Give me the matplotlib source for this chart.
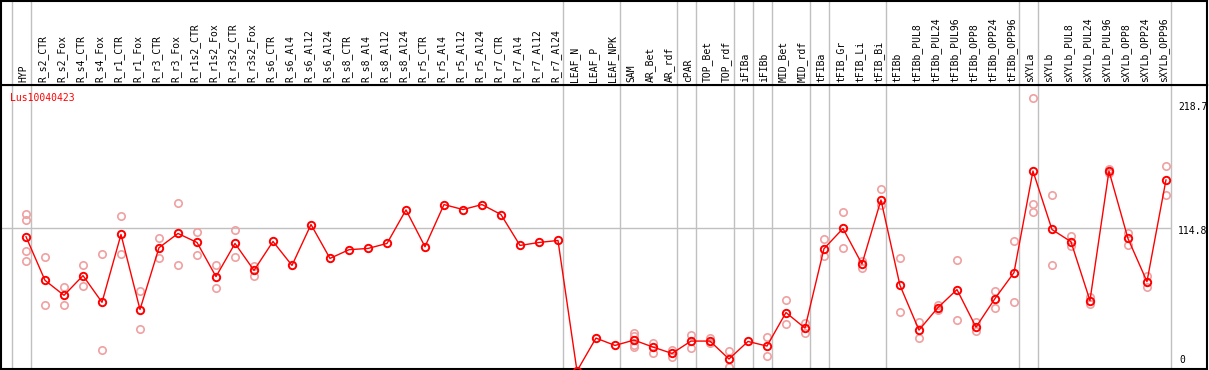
import numpy as np
import matplotlib.pyplot as plt
from matplotlib.transforms import blended_transform_factory

samples = ['HYP', 'R_s2_CTR', 'R_s2_Fox', 'R_s4_CTR', 'R_s4_Fox', 'R_r1_CTR', 'R_r1_Fox',
           'R_r3_CTR', 'R_r3_Fox', 'R_r1s2_CTR', 'R_r1s2_Fox', 'R_r3s2_CTR', 'R_r3s2_Fox',
           'R_s6_CTR', 'R_s6_Al4', 'R_s6_Al12', 'R_s6_Al24', 'R_s8_CTR', 'R_s8_Al4',
           'R_s8_Al12', 'R_s8_Al24', 'R_r5_CTR', 'R_r5_Al4', 'R_r5_Al12', 'R_r5_Al24',
           'R_r7_CTR', 'R_r7_Al4', 'R_r7_Al12', 'R_r7_Al24', 'LEAF_N', 'LEAF_P', 'LEAF_NPK',
           'SAM', 'AR_Bet', 'AR_rdf', 'cPAR', 'TOP_Bet', 'TOP_rdf', 'iFIBa', 'iFIBb',
           'MID_Bet', 'MID_rdf', 'tFIBa', 'tFIB_Gr', 'tFIB_Li', 'tFIB_Bi', 'tFIBb',
           'tFIBb_PUL8', 'tFIBb_PUL24', 'tFIBb_PUL96', 'tFIBb_OPP8', 'tFIBb_OPP24',
           'tFIBb_OPP96', 'sXYLa', 'sXYLb', 'sXYLb_PUL8', 'sXYLb_PUL24', 'sXYLb_PUL96',
           'sXYLb_OPP8', 'sXYLb_OPP24', 'sXYLb_OPP96']

mean_vals = [107.7, 72.7, 60.7, 76.5, 55.1, 109.5, 49.3, 98.9, 110.3, 103.1, 75.7, 102.3, 80.7,
             103.9, 84.7, 117.5, 90.3, 97.3, 98.3, 102.3, 129.2, 99.7, 133.5, 129.5, 133.5,
             125.5, 100.7, 103.1, 104.7, 0.0, 26.4, 20.5,
             24.8, 19.2, 14.1, 24.0, 24.0, 9.6, 23.7, 20.0, 46.9, 34.4,
             98.1, 114.3, 85.8, 137.2, 68.7, 32.8, 50.9, 65.3, 35.2, 58.1, 78.9,
             160.4, 113.5, 103.7, 56.5, 160.4, 106.3, 71.7, 153.2]

# replicate values per sample (empty where only the mean is shown)
replicates = [[125.7, 121.5, 95.9, 88.5], [91.7, 52.7], [67.1, 53.3], [85.3, 67.9],
              [94.1, 16.5], [124.4, 93.5], [64.5, 33.3], [106.9, 90.9], [134.8, 85.3],
              [111.7, 93.3], [85.3, 66.3], [113.3, 91.4], [84.5, 76.2],
              [], [], [], [], [], [], [], [], [], [], [], [], [], [], [], [], [], [], [],
              [30.4, 28.2, 21.0, 18.9], [22.6, 14.6], [16.8, 11.4], [28.8, 18.1],
              [26.6, 22.4], [15.7, 3.4], [], [26.9, 12.0], [57.3, 37.3], [38.4, 30.6],
              [105.5, 92.1], [127.9, 98.3], [87.9, 82.6], [146.0, 133.5], [90.3, 47.2],
              [39.4, 26.1], [52.7, 49.3], [89.3, 41.3], [38.9, 32.0], [64.5, 50.9],
              [103.9, 55.1], [218.7, 134.3, 127.6], [141.5, 84.7], [108.1, 100.1],
              [59.4, 54.1], [162.2, 159.0], [110.9, 100.9], [75.9, 67.7], [164.4, 141.2]]

group_ends = [-1, 0, 28, 31, 34, 35, 37, 38, 39, 41, 42, 45, 52, 53, 60]
ytick_vals = [218.7, 114.8, 0]
gene = 'Lus10040423'

W, H = 1209, 370
fig = plt.figure(figsize=(W / 100, H / 100), dpi=100)
head_h = 85
ax = fig.add_axes([1 / W, 1 / H, 1206 / W, (H - head_h - 1) / H])
axh = fig.add_axes([1 / W, (H - head_h) / H, 1206 / W, (head_h - 1) / H])

x = np.arange(len(samples))
xmin, xmax = -1.316, 62.16
for a in (ax, axh):
    a.set_xlim(xmin, xmax)
    a.set_xticks([])
    a.set_yticks([])
    for s in a.spines.values():
        s.set_linewidth(1.5)
        s.set_color('black')
    for g in group_ends:
        a.axvline(g + 0.25, color='#c0c0c0', lw=1, zorder=0)
axh.set_ylim(0, 1)
ax.set_ylim(1.6, 229.4)

ax.hlines(114.8, xmin, 60.25, color='#c0c0c0', lw=1, zorder=0)

rx = [i for i, r in enumerate(replicates) for _ in r]
ry = [v for r in replicates for v in r]
ax.plot(rx, ry, 'o', ms=5.3, mfc='none', mec='#f0a0a0', mew=1.2, zorder=2)
ax.plot(x, mean_vals, '-', color='red', lw=1, zorder=3)
ax.plot(x, mean_vals, 'o', ms=5.3, mfc='none', mec='red', mew=1.4, zorder=4)

font = 'DejaVu Sans Mono'
for i, s in enumerate(samples):
    axh.text(i - 0.13, 0.03, s, rotation=90, ha='center', va='bottom',
             family=font, fontsize=7)

tr = blended_transform_factory(ax.transAxes, ax.transData)
lx = (1178 - 1) / 1206
labels = ['218.7', '114.8', '0']
offsets = [(0, -4), (0, 2), (1, 6)]
aligns = ['top', 'top', 'bottom']
for v, lab, off, va in zip(ytick_vals, labels, offsets, aligns):
    ax.annotate(lab, xy=(lx, v), xycoords=tr, xytext=off, textcoords='offset pixels',
                va=va, ha='left', family=font, fontsize=7, annotation_clip=False)

fig.text(10 / W, 1 - 97.7 / H, gene, color='red', va='center', ha='left',
         family=font, fontsize=7)

fig.savefig('out.png', dpi=100)
